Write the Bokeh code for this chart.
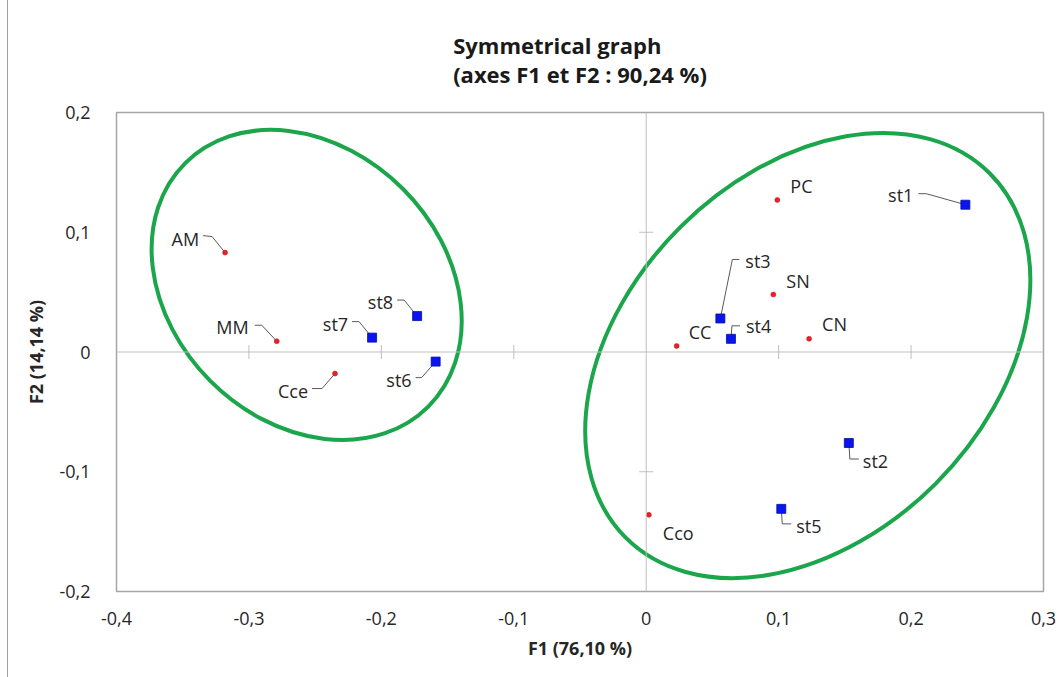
from math import pi
from bokeh.plotting import figure
from bokeh.layouts import row
from bokeh.models import (ColumnDataSource, Span, Title, CustomJSTickFormatter,
                          FixedTicker, Div)
from bokeh.embed import file_html
from bokeh.resources import INLINE
from bokeh.core.properties import value

# ---- data ----
row_names = ["AM", "MM", "Cce", "PC", "CC", "SN", "CN", "Cco"]
row_f1 = [-0.318, -0.279, -0.235, 0.099, 0.023, 0.096, 0.123, 0.002]
row_f2 = [0.083, 0.009, -0.018, 0.127, 0.005, 0.048, 0.011, -0.136]

col_names = ["st1", "st2", "st3", "st4", "st5", "st6", "st7", "st8"]
col_f1 = [0.241, 0.153, 0.056, 0.064, 0.102, -0.159, -0.207, -0.173]
col_f2 = [0.123, -0.076, 0.028, 0.011, -0.131, -0.008, 0.012, 0.030]

x_ticks = [-0.4, -0.3, -0.2, -0.1, 0.0, 0.1, 0.2, 0.3]
y_ticks = [-0.2, -0.1, 0.0, 0.1, 0.2]

# group ellipses (centre in F1/F2 units, size in screen pixels)
ell_f1 = [-0.2564, 0.122]
ell_f2 = [0.056, -0.003]
ell_w = [344, 515]
ell_h = [272, 362]
ell_angle = [-pi / 4, pi / 4]

# ---- label styling: text offsets (px, y down) and leader polylines (px) ----
label_style = {
    "AM": ((-26, -14), "right", [(-22, -17), (-13, -16), (0, 0)]),
    "MM": ((-28, -14), "right", [(-22, -16), (-15, -16), (0, 0)]),
    "Cce": ((-27, 17), "right", [(-23, 15), (-13, 15), (0, 0)]),
    "PC": ((13, -14), "left", None),
    "CC": ((12, -14), "left", None),
    "SN": ((13, -14), "left", None),
    "CN": ((13, -15), "left", None),
    "Cco": ((14, 18), "left", None),
    "st1": ((-52, -10), "right", [(-47, -11), (-39, -11), (0, 0)]),
    "st2": ((14, 18), "left", [(0, 0), (1, 16), (10, 16)]),
    "st3": ((25, -57), "left", [(19, -59), (12, -59), (0, 0)]),
    "st4": ((15, -13), "left", [(0, 0), (1, -13), (9, -13)]),
    "st5": ((15, 17), "left", [(0, 0), (1, 15), (10, 15)]),
    "st6": ((-24, 18), "right", [(-20, 16), (-14, 16), (0, 0)]),
    "st7": ((-24, -14), "right", [(-20, -16), (-13, -16), (0, 0)]),
    "st8": ((-24, -14), "right", [(-20, -16), (-13, -16), (0, 0)]),
}

FONT = "Open Sans"
TXT = "#262626"

LEFT_STRIP = 9
W, H = 1064 - LEFT_STRIP, 677
ML, MR, MT, MB = 117 - LEFT_STRIP, 20, 112, 86
frame_w = W - ML - MR
frame_h = H - MT - MB
xr = (x_ticks[0], x_ticks[-1])
yr = (y_ticks[0], y_ticks[-1])
px_x = (xr[1] - xr[0]) / frame_w
px_y = (yr[1] - yr[0]) / frame_h

p = figure(width=W, height=H, x_range=xr, y_range=yr,
           min_border_left=ML, min_border_right=MR,
           min_border_top=MT, min_border_bottom=MB,
           output_backend="svg", toolbar_location=None)

p.xgrid.visible = False
p.ygrid.visible = False
p.outline_line_color = "#a6a6a6"
p.outline_line_width = 1.5
p.background_fill_color = "white"
p.border_fill_color = "white"

fmt = CustomJSTickFormatter(code="""
if (Math.abs(tick) < 1e-9) { return '0'; }
return tick.toFixed(1).replace('.', ',');
""")
for ax, ticks in ((p.xaxis[0], x_ticks), (p.yaxis[0], y_ticks)):
    ax.ticker = FixedTicker(ticks=ticks)
    ax.formatter = fmt
    ax.axis_line_color = None
    ax.major_tick_line_color = None
    ax.minor_tick_line_color = None
    ax.major_label_text_font = FONT
    ax.major_label_text_font_size = "18px"
    ax.major_label_text_color = TXT
    ax.axis_label_text_font = FONT
    ax.axis_label_text_font_size = "18px"
    ax.axis_label_text_font_style = "bold"
    ax.axis_label_text_color = TXT

p.xaxis.axis_label = "F1 (76,10 %)"
p.yaxis.axis_label = "F2 (14,14 %)"
p.xaxis.major_label_standoff = 14
p.xaxis.axis_label_standoff = 8
p.yaxis.major_label_standoff = 20
p.yaxis.axis_label_standoff = 8

title = Title(text="Symmetrical graph\n(axes F1 et F2 : 90,24 %)", align="center",
              text_font=FONT, text_font_size="22px", text_font_style="bold",
              text_color="#1a1a1a", text_line_height=0.95, standoff=48)
p.add_layout(title, "above")

# zero axes with crossing tick marks
p.add_layout(Span(location=0, dimension="height", line_color="#bfbfbf", line_width=1))
p.add_layout(Span(location=0, dimension="width", line_color="#bfbfbf", line_width=1))
xt_inner = [t for t in x_ticks if t not in (0.0, xr[0], xr[1])]
yt_inner = [t for t in y_ticks if t not in (0.0, yr[0], yr[1])]
p.scatter(x=xt_inner, y=[0] * len(xt_inner), marker="dash", size=14,
          angle=pi / 2, line_color="#bfbfbf", line_width=1)
p.scatter(x=[0] * len(yt_inner), y=yt_inner, marker="dash", size=14,
          angle=0, line_color="#bfbfbf", line_width=1)

# ellipses
p.ellipse(x=ell_f1, y=ell_f2, width=ell_w, height=ell_h, angle=ell_angle,
          width_units="screen", height_units="screen",
          fill_alpha=0, line_color="#1ba64c", line_width=4)

# leader lines
names = row_names + col_names
xs_all = row_f1 + col_f1
ys_all = row_f2 + col_f2
lx, ly = [], []
for n, x, y in zip(names, xs_all, ys_all):
    pts = label_style[n][2]
    if pts:
        lx.append([x + dx * px_x for dx, dy in pts])
        ly.append([y - dy * px_y for dx, dy in pts])
p.multi_line(xs=lx, ys=ly, line_color="#595959", line_width=1)

# points
p.scatter(x=row_f1, y=row_f2, marker="circle", size=5,
          fill_color="#e8202a", line_color="#c01820", line_width=0.5)
p.scatter(x=col_f1, y=col_f2, marker="square", size=9,
          fill_color="#0a14f0", line_color="#00109a", line_width=0.8)

# labels
for align in ("left", "right"):
    sel = [i for i, n in enumerate(names) if label_style[n][1] == align]
    src = ColumnDataSource(dict(
        x=[xs_all[i] for i in sel], y=[ys_all[i] for i in sel],
        t=[names[i] for i in sel],
        dx=[label_style[names[i]][0][0] for i in sel],
        dy=[label_style[names[i]][0][1] for i in sel],
    ))
    p.text(x="x", y="y", text="t", x_offset="dx", y_offset="dy", source=src,
           text_align=align, text_baseline="middle",
           text_font=value(FONT), text_font_size="18px", text_color=TXT)

strip = Div(text="", width=LEFT_STRIP - 1, height=H, margin=(0, 0, 0, 0),
            styles={"border-right": "1px solid #a0a0a0", "background": "white"})
layout = row(strip, p, spacing=0)

open("out.html", "w").write(file_html(layout, INLINE))
